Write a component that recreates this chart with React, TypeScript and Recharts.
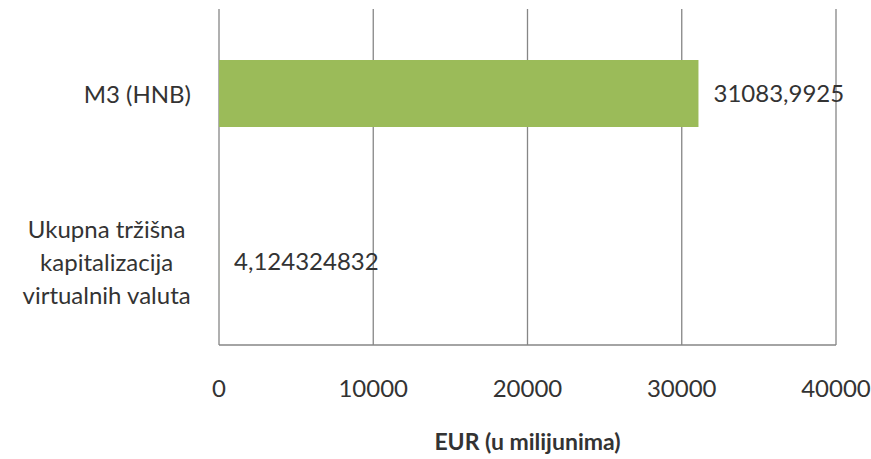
import React from 'react';
import {
  BarChart,
  Bar,
  XAxis,
  YAxis,
  CartesianGrid,
  LabelList,
  Label,
} from 'recharts';

const categories = [
  'M3 (HNB)',
  'Ukupna tržišna kapitalizacija virtualnih valuta',
];
const values = [31083.9925, 4.124324832];
const xTicks = [0, 10000, 20000, 30000, 40000];
const axisTitle = 'EUR (u milijunima)';

const data = categories.map((name, i) => ({ name, value: values[i] }));

const FONT = 'Lato, "Open Sans", sans-serif';
const TEXT = '#333333';
const GRID = '#868686';

let canvasCtx: CanvasRenderingContext2D | null = null;
const measure = (s: string) => {
  if (!canvasCtx) {
    canvasCtx = document.createElement('canvas').getContext('2d');
  }
  if (!canvasCtx) return s.length * 11;
  canvasCtx.font = `24px ${FONT}`;
  return canvasCtx.measureText(s).width;
};

// greedy word wrap, roughly like Excel does for long category names
const wrap = (s: string, maxChars = 17) => {
  const words = s.split(' ');
  const lines: string[] = [];
  let cur = '';
  words.forEach((w) => {
    if (!cur) cur = w;
    else if ((cur + ' ' + w).length <= maxChars) cur += ' ' + w;
    else {
      lines.push(cur);
      cur = w;
    }
  });
  if (cur) lines.push(cur);
  return lines;
};

const CategoryTick = ({ y, payload }: any) => {
  const lines = wrap(String(payload.value));
  const maxW = Math.max(...lines.map(measure));
  const rightEdge = 191;
  const cx = rightEdge - maxW / 2;
  const lineH = 33;
  const startY = y - ((lines.length - 1) * lineH) / 2;
  return (
    <text
      x={cx}
      y={startY}
      textAnchor="middle"
      dominantBaseline="central"
      fill={TEXT}
      fontSize={24}
      fontFamily={FONT}
    >
      {lines.map((ln, i) => (
        <tspan key={i} x={cx} y={startY + i * lineH} dominantBaseline="central">
          {ln}
        </tspan>
      ))}
    </text>
  );
};

const formatValue = (v: any) => String(v).replace('.', ',');

export default function App() {
  return (
    <div style={{ width: 871, height: 459, background: '#fff' }}>
      <style>{`body{margin:0;}`}</style>
      <BarChart
        width={871}
        height={459}
        data={data}
        layout="vertical"
        margin={{ top: 9, right: 35, left: 0, bottom: 0 }}
      >
        <CartesianGrid horizontal={false} vertical stroke={GRID} strokeWidth={1.3} />
        <XAxis
          type="number"
          domain={[0, 40000]}
          ticks={xTicks}
          interval={0}
          height={114}
          tickLine={false}
          tickSize={0}
          tickMargin={35}
          axisLine={{ stroke: GRID, strokeWidth: 1.3 }}
          tick={{ fill: TEXT, fontSize: 24, fontFamily: FONT }}
        >
          <Label
            value={axisTitle}
            position="insideBottom"
            offset={9}
            fill={TEXT}
            fontSize={23}
            fontWeight="bold"
            fontFamily={FONT}
          />
        </XAxis>
        <YAxis
          type="category"
          dataKey="name"
          width={219}
          axisLine={false}
          tickLine={false}
          tick={<CategoryTick />}
        />
        <Bar dataKey="value" fill="#9BBB59" barSize={67} isAnimationActive={false}>
          <LabelList
            dataKey="value"
            position="right"
            offset={15}
            formatter={formatValue}
            fill={TEXT}
            fontSize={24}
            fontFamily={FONT}
          />
        </Bar>
      </BarChart>
    </div>
  );
}
